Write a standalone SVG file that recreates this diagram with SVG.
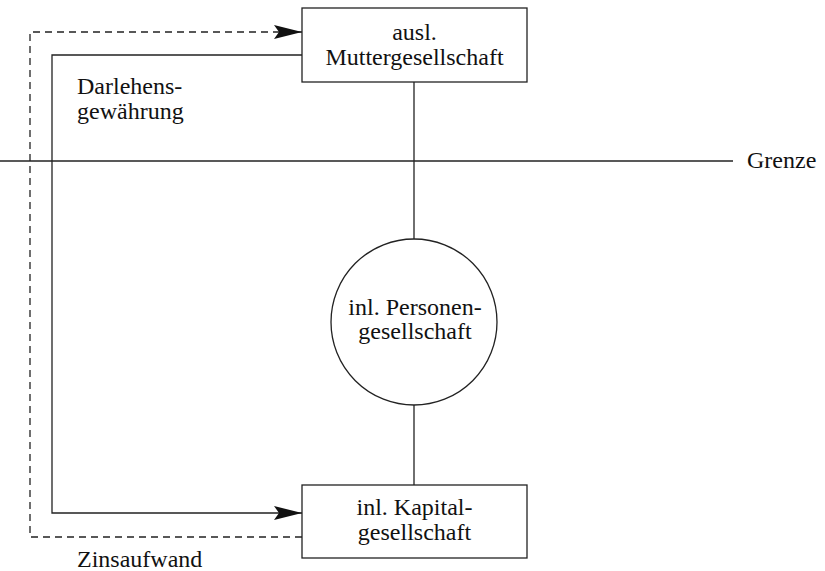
<svg xmlns="http://www.w3.org/2000/svg" width="825" height="571" viewBox="0 0 825 571">
<style>
.t{font-family:'Liberation Serif','Times New Roman',Times,serif;font-size:24px;fill:#111}
.c{text-anchor:middle}
.s{fill:none;stroke:#222;stroke-width:1.3}
.d{fill:none;stroke:#222;stroke-width:1.3;stroke-dasharray:7,5}
</style>
<defs>
<marker id="ah" markerWidth="28" markerHeight="14" refX="28" refY="7" orient="auto" markerUnits="userSpaceOnUse">
<path d="M0,0 L28,7 L0,14 L5,7 Z" fill="#111"/>
</marker>
</defs>
<rect width="825" height="571" fill="#fff"/>
<g id="grenze">
<line class="s" x1="0" y1="161" x2="733" y2="161"/>
<text class="t" x="747" y="168">Grenze</text>
</g>
<g id="connectors">
<polyline class="d" points="302,537 30,537 30,32 302,32" marker-end="url(#ah)"/>
<polyline class="s" points="302,55 52,55 52,513 302,513" marker-end="url(#ah)"/>
<line class="s" x1="414" y1="82" x2="414" y2="239"/>
<line class="s" x1="414" y1="405" x2="414" y2="485"/>
<text class="t" x="77" y="94">Darlehens-</text>
<text class="t" x="77" y="119">gewährung</text>
<text class="t" x="77" y="567">Zinsaufwand</text>
</g>
<g id="mutter">
<rect class="s" x="302" y="8" width="225" height="74" fill="#fff"/>
<text class="t c" x="414.5" y="40">ausl.</text>
<text class="t c" x="414.5" y="65">Muttergesellschaft</text>
</g>
<g id="personen">
<circle class="s" cx="414" cy="322" r="83" fill="#fff"/>
<text class="t c" x="415" y="315">inl. Personen-</text>
<text class="t c" x="415" y="339">gesellschaft</text>
</g>
<g id="kapital">
<rect class="s" x="302" y="485" width="225" height="73" fill="#fff"/>
<text class="t c" x="414.5" y="515">inl. Kapital-</text>
<text class="t c" x="414.5" y="540">gesellschaft</text>
</g>
</svg>
